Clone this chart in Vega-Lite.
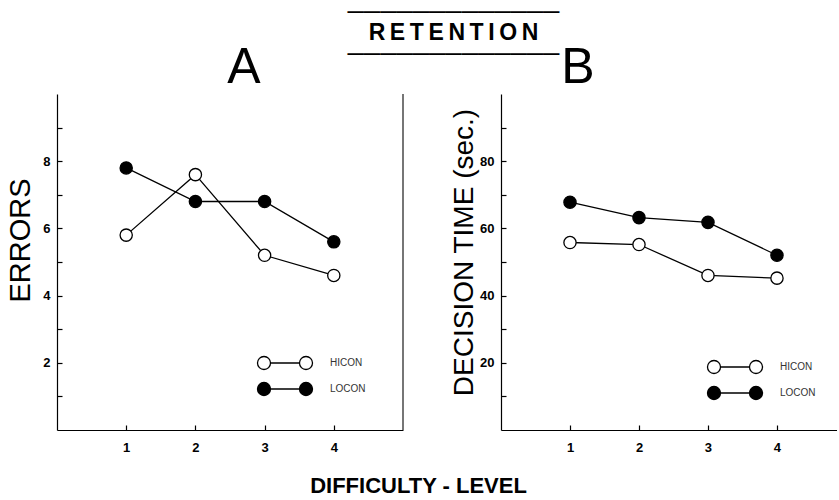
{
  "$schema": "https://vega.github.io/schema/vega-lite/v6.json",
  "background": "white",
  "padding": {"left": 6, "top": 0, "right": 0, "bottom": 0},
  "config": {
    "font": "Liberation Sans",
    "view": {"stroke": null},
    "axis": {
      "grid": false,
      "domainColor": "black",
      "domainWidth": 1.2,
      "tickColor": "black",
      "tickWidth": 1.2,
      "tickSize": -5,
      "labelFont": "Liberation Sans",
      "labelFontWeight": "bold",
      "labelFontSize": 13,
      "labelColor": "black",
      "titleFont": "Liberation Sans",
      "titleFontWeight": "normal",
      "titleColor": "black"
    },
    "legend": {
      "orient": "none",
      "title": null,
      "padding": 0,
      "symbolSize": 196,
      "symbolType": "M-3.93,0a0.93,0.93 0 1,0 1.86,0a0.93,0.93 0 1,0 -1.86,0M-2.07,0L2.07,0M2.07,0a0.93,0.93 0 1,0 1.86,0a0.93,0.93 0 1,0 -1.86,0",
      "symbolStrokeColor": "black",
      "symbolStrokeWidth": 1.3,
      "symbolOpacity": 1,
      "labelFont": "Liberation Sans",
      "labelFontSize": 10,
      "labelColor": "#333",
      "labelOffset": 37,
      "rowPadding": 6,
      "labelExpr": "join(split(datum.label, ''), '\u2009')"
    }
  },
  "title": {
    "text": ["\u2500\u2500\u2500\u2500\u2500\u2500\u2500\u2500\u2500\u2500\u2500\u2500\u2500", "R\u2009E\u2009T\u2009E\u2009N\u2009T\u2009I\u2009O\u2009N", "\u2500\u2500\u2500\u2500\u2500\u2500\u2500\u2500\u2500\u2500\u2500\u2500\u2500"],
    "font": "Liberation Sans",
    "fontSize": 23,
    "fontWeight": "bold",
    "lineHeight": 21,
    "color": "black",
    "anchor": "middle",
    "frame": "bounds",
    "dx": 32,
    "dy": -4,
    "offset": -27
  },
  "datasets": {
    "a": [
      {"level": 1, "series": "HICON", "errors": 5.8},
      {"level": 2, "series": "HICON", "errors": 7.6},
      {"level": 3, "series": "HICON", "errors": 5.2},
      {"level": 4, "series": "HICON", "errors": 4.6},
      {"level": 1, "series": "LOCON", "errors": 7.8},
      {"level": 2, "series": "LOCON", "errors": 6.8},
      {"level": 3, "series": "LOCON", "errors": 6.8},
      {"level": 4, "series": "LOCON", "errors": 5.6}
    ],
    "b": [
      {"level": 1, "series": "HICON", "time": 55.8},
      {"level": 2, "series": "HICON", "time": 55.2},
      {"level": 3, "series": "HICON", "time": 46.0},
      {"level": 4, "series": "HICON", "time": 45.2},
      {"level": 1, "series": "LOCON", "time": 67.8},
      {"level": 2, "series": "LOCON", "time": 63.2},
      {"level": 3, "series": "LOCON", "time": 61.8},
      {"level": 4, "series": "LOCON", "time": 52.0}
    ]
  },
  "bounds": "flush",
  "spacing": 98,
  "resolve": {"scale": {"fill": "independent"}, "legend": {"fill": "independent"}},
  "hconcat": [
    {
      "width": 346,
      "height": 336,
      "title": {"text": "A", "fontSize": 50, "fontWeight": "normal", "anchor": "middle", "dx": 14, "offset": 1, "color": "black"},
      "data": {"name": "a"},
      "layer": [
        {
          "mark": {"type": "rule", "color": "#777", "strokeWidth": 1},
          "encoding": {"x": {"datum": 5, "type": "quantitative"}}
        },
        {
          "mark": {"type": "line", "color": "black", "strokeWidth": 1.3},
          "encoding": {
            "x": {"field": "level", "type": "quantitative",
                  "scale": {"domain": [0, 5], "nice": false, "zero": false},
                  "axis": {"values": [1, 2, 3, 4], "format": "d", "labelPadding": 16, "title": "DIFFICULTY - LEVEL", "titleX": 361, "titleY": 55, "titleFontSize": 22, "titleFontWeight": "bold", "titleAlign": "center", "titleBaseline": "middle", "titleAngle": 0}},
            "y": {"field": "errors", "type": "quantitative",
                  "scale": {"domain": [0, 10], "nice": false},
                  "axis": {"values": [1, 2, 3, 4, 5, 6, 7, 8, 9], "labelExpr": "datum.value % 2 === 0 ? datum.label : ''", "labelPadding": 12, "title": "ERRORS", "titleFontSize": 29, "titleX": -37, "titleY": 146, "titleAngle": 270, "titleAlign": "center", "titleBaseline": "middle"}},
            "detail": {"field": "series"}
          }
        },
        {
          "mark": {"type": "point", "filled": true, "stroke": "black", "strokeWidth": 1.3, "size": 150, "opacity": 1},
          "encoding": {
            "x": {"field": "level", "type": "quantitative"},
            "y": {"field": "errors", "type": "quantitative"},
            "fill": {"field": "series", "type": "nominal",
                     "scale": {"domain": ["HICON", "LOCON"], "range": ["white", "black"]},
                     "legend": {"legendX": 220, "legendY": 261}}
          }
        }
      ]
    },
    {
      "width": 336,
      "height": 336,
      "title": {"text": "B", "fontSize": 50, "fontWeight": "normal", "anchor": "middle", "dx": -91, "offset": 1, "color": "black"},
      "data": {"name": "b"},
      "layer": [
        {
          "mark": {"type": "line", "color": "black", "strokeWidth": 1.3},
          "encoding": {
            "x": {"field": "level", "type": "quantitative",
                  "scale": {"domain": [0, 4.87], "nice": false, "zero": false},
                  "axis": {"values": [1, 2, 3, 4], "format": "d", "labelPadding": 16, "title": null}},
            "y": {"field": "time", "type": "quantitative",
                  "scale": {"domain": [0, 100], "nice": false},
                  "axis": {"values": [10, 20, 30, 40, 50, 60, 70, 80, 90], "labelExpr": "datum.value % 20 === 0 ? datum.label : ''", "labelPadding": 12, "title": "DECISION TIME (sec.)", "titleFontSize": 28, "titleX": -37, "titleY": 158, "titleAngle": 270, "titleAlign": "center", "titleBaseline": "middle"}},
            "detail": {"field": "series"}
          }
        },
        {
          "mark": {"type": "point", "filled": true, "stroke": "black", "strokeWidth": 1.3, "size": 150, "opacity": 1},
          "encoding": {
            "x": {"field": "level", "type": "quantitative"},
            "y": {"field": "time", "type": "quantitative"},
            "fill": {"field": "series", "type": "nominal",
                     "scale": {"domain": ["HICON", "LOCON"], "range": ["white", "black"]},
                     "legend": {"legendX": 226, "legendY": 265}}
          }
        }
      ]
    }
  ]
}
